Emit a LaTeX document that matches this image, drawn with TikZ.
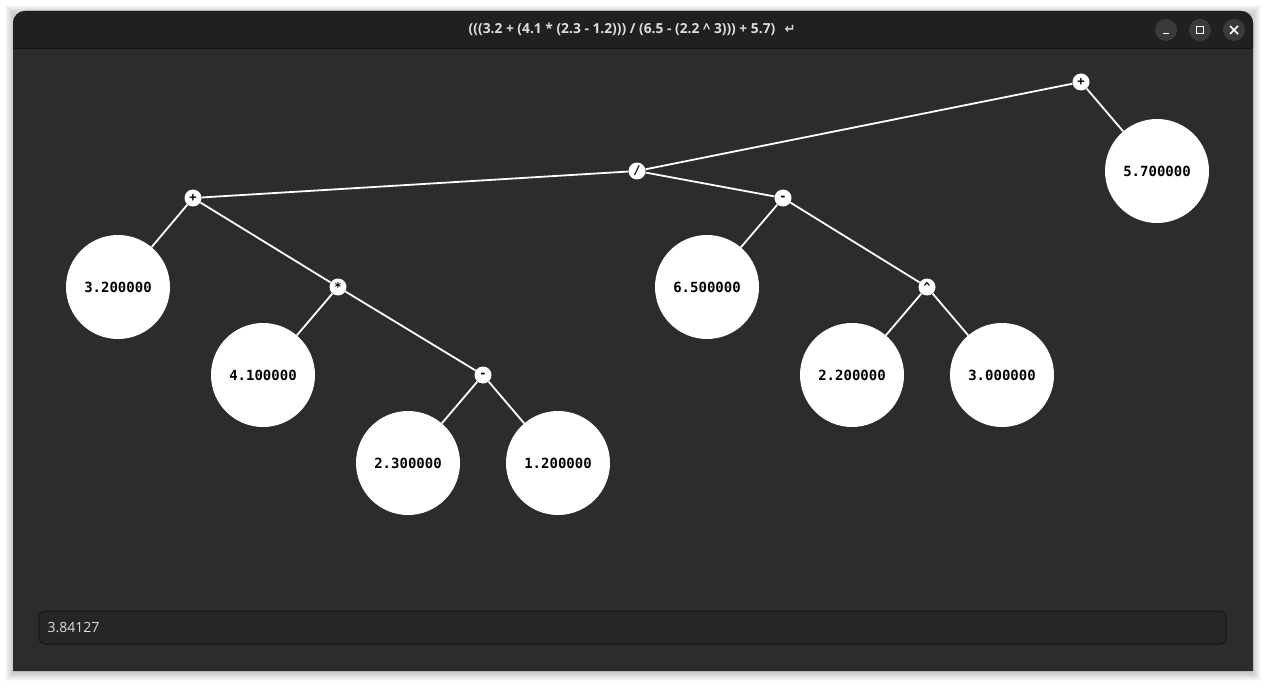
\documentclass[tikz,border=0pt]{standalone}
\usepackage{fontspec}
\setmainfont{Open Sans}
\newfontfamily\valfont{DejaVu Sans Mono}
\newfontfamily\symfont{DejaVu Sans}
\definecolor{winbg}{HTML}{2C2C2C}
\definecolor{titlebg}{HTML}{202020}
\definecolor{titlefg}{HTML}{DEDEDE}
\definecolor{btnbg}{HTML}{3A3A3A}
\definecolor{fieldbg}{HTML}{262626}
\definecolor{fieldline}{HTML}{171717}
\tikzset{
  opnode/.style={circle,fill=white,inner sep=0pt,minimum size=17pt,
    font=\valfont\bfseries\fontsize{12}{12}\selectfont},
  valnode/.style={circle,fill=white,inner sep=0pt,minimum size=104pt,
    font=\valfont\bfseries\fontsize{14}{14}\selectfont},
  branch/.style={white,line width=1.8pt},
  winbtn/.style={circle,fill=btnbg,inner sep=0pt,minimum size=22pt},
  btnicon/.style={white,line width=1.8pt}
}
\begin{document}
\begin{tikzpicture}[x=1pt,y=-1pt]
      \useasboundingbox[fill=white](0,0) rectangle (1266,687);
      % shadow and window
      \foreach \d in {1,...,8}{
        \fill[black,opacity=.022](13-\d,11-\d+2) rectangle (1253+\d,671+\d+2);
      }
      \fill[winbg](13,671)--(13,23) arc[start angle=180,end angle=270,radius=12]
        --(1241,11) arc[start angle=270,end angle=360,radius=12]--(1253,671)--cycle;
      \fill[titlebg](13,48)--(13,23) arc[start angle=180,end angle=270,radius=12]
        --(1241,11) arc[start angle=270,end angle=360,radius=12]--(1253,48)--cycle;
      \draw[fieldline,line width=1pt](13,48.5)--(1253,48.5);
      \node[titlefg,font=\bfseries\fontsize{13.8}{14}\selectfont] (title) at (622,29)
        {(((3.2 + (4.1 * (2.3 - 1.2))) / (6.5 - (2.2 \textasciicircum{} 3))) + 5.7)};
      \node[titlefg,font=\symfont\bfseries\fontsize{13}{13}\selectfont] (enter) at (790,29) {↵};
      % window buttons
      \node[winbtn] (minbtn) at (1166,30) {};
      \node[winbtn] (maxbtn) at (1200,30) {};
      \node[winbtn] (closebtn) at (1234,30) {};
      \draw[btnicon](minbtn.center)+(-3,3.5)--+(3,3.5);
      \draw[btnicon,line width=1.6pt](maxbtn.center)+(-3.5,-3.5) rectangle +(3.5,3.5);
      \draw[btnicon,line width=1.6pt](closebtn.center)+(-4,-4)--+(4,4) +(-4,4)--+(4,-4);
      % tree
      \node[opnode] (root) at (1081,82) {+};
      \node[valnode] (v57) at (1157,171) {5.700000};
      \node[opnode] (div) at (637,171) {/};
      \node[opnode] (plus) at (193,198) {+};
      \node[opnode] (sub) at (783,198) {-};
      \node[valnode] (v32) at (118,287) {3.200000};
      \node[opnode] (mul) at (338,287) {*};
      \node[valnode] (v65) at (707,287) {6.500000};
      \node[opnode] (pow) at (927,287) {\textasciicircum};
      \node[valnode] (v41) at (263,375) {4.100000};
      \node[opnode] (sub2) at (483,375) {-};
      \node[valnode] (v22) at (852,375) {2.200000};
      \node[valnode] (v30) at (1002,375) {3.000000};
      \node[valnode] (v23) at (408,463) {2.300000};
      \node[valnode] (v12) at (558,463) {1.200000};
      \foreach \a/\b in {root/v57,root/div,div/plus,div/sub,plus/v32,plus/mul,
        mul/v41,mul/sub2,sub2/v23,sub2/v12,sub/v65,sub/pow,pow/v22,pow/v30}{
        \draw[branch](\a)--(\b);
      }
      % result field
      \draw[fieldline,fill=fieldbg,rounded corners=6pt,line width=1pt](39,611) rectangle (1226,644);
      \node[titlefg,anchor=west,font=\fontsize{14}{14}\selectfont] (result) at (44,628) {3.84127};
    \end{tikzpicture}
\end{document}
